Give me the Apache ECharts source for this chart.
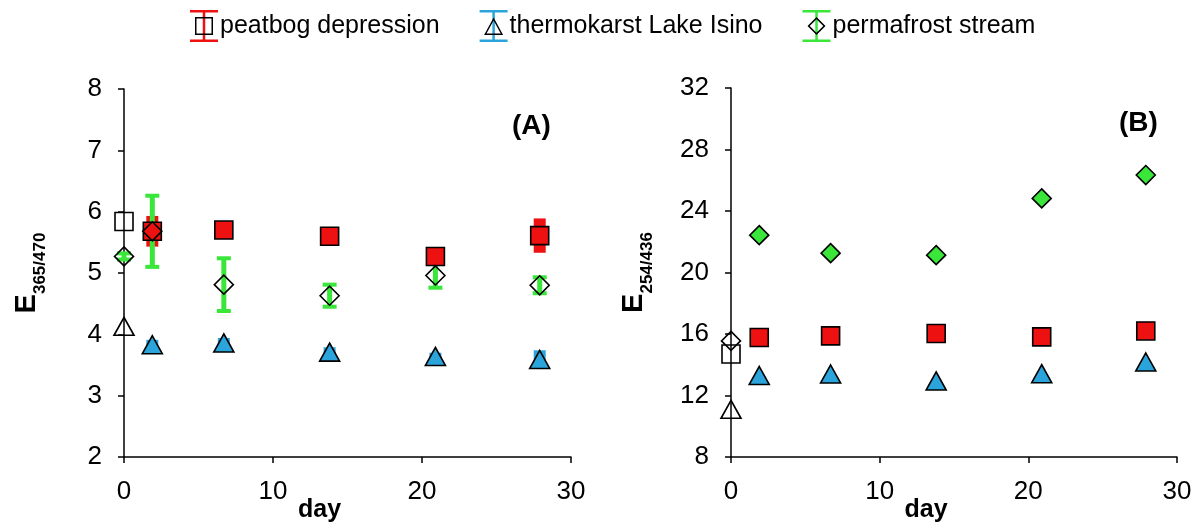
<!DOCTYPE html>
<html><head><meta charset="utf-8">
<script src="https://cdn.jsdelivr.net/npm/echarts@6/dist/echarts.min.js"></script>
<style>html,body{margin:0;padding:0;background:#fff}#c{width:1200px;height:524px}</style>
</head><body><div id="c"></div>
<script>
// ---- data ----
const days = [0, 1.9, 6.7, 13.8, 20.9, 27.9];
const seriesNames = ['peatbog depression', 'thermokarst Lake Isino', 'permafrost stream'];
const xTicks = [0, 10, 20, 30];
const yTicksA = [2, 3, 4, 5, 6, 7, 8];
const yTicksB = [8, 12, 16, 20, 24, 28, 32];
const panelLabels = ['(A)', '(B)'];
const xTitle = 'day';
// panel A: E365/470
const peatA = [5.84, 5.68, 5.70, 5.60, 5.27, 5.61];
const peatErrA = [0, 0.25, 0.14, 0.12, 0.15, 0.28];
const lakeA = [4.13, 3.83, 3.86, 3.71, 3.64, 3.59];
const lakeErrA = [0, 0.08, 0.08, 0.08, 0.06, 0.15];
const streamA = [5.27, 5.68, 4.81, 4.63, 4.96, 4.80];
const streamErrA = [0.05, 0.58, 0.43, 0.18, 0.20, 0.13];
// panel B: E254/436
const peatB = [14.7, 15.77, 15.88, 16.03, 15.81, 16.2];
const lakeB = [11.1, 13.3, 13.4, 12.95, 13.42, 14.18];
const streamB = [15.55, 22.43, 21.26, 21.13, 24.82, 26.34];

// ---- styling ----
const RED = '#ee1111', BLUE = '#2ba4dc', GREEN = '#3ae63a';
const FONT = 'Liberation Sans, Arial, sans-serif';

const IBEAM = 'path://M0,0H28V2.5H15.25V29.5H28V32H0V29.5H12.75V2.5H0Z';
const DOTS = 'M0,0h0.01v0.01h-0.01Z M27.99,31.99h0.01v0.01h-0.01Z ';
const SQ_RING = 'path://' + DOTS + 'M5,7H23V25H5Z M6.5,8.5V23.5H21.5V8.5Z';
const TRI_RING = 'path://' + DOTS + 'M14,7.5L23.5,25H4.5Z M14,10.6L6.9,23.5H21.1Z';
const DIA_RING = 'path://' + DOTS + 'M14,7L23,16L14,25L5,16Z M14,9.2L7.2,16L14,22.8L20.8,16Z';

function errSeries(name, xi, vals, errs, color, kind) {
  return {
    type: 'custom', name: name, xAxisIndex: xi, yAxisIndex: xi, z: 2, silent: true,
    data: days.map((d, i) => [d, vals[i] - errs[i], vals[i] + errs[i]]),
    renderItem: function (params, api) {
      const lo = api.coord([api.value(0), api.value(1)]);
      const hi = api.coord([api.value(0), api.value(2)]);
      if (Math.abs(lo[1] - hi[1]) < 0.5) return { type: 'group', children: [] };
      if (kind === 'block') {
        return { type: 'rect', shape: { x: lo[0] - 6, y: hi[1], width: 12, height: lo[1] - hi[1] }, style: { fill: color } };
      }
      return { type: 'group', children: [
        { type: 'line', shape: { x1: lo[0], y1: lo[1], x2: hi[0], y2: hi[1] }, style: { stroke: color, lineWidth: 5 } },
        { type: 'line', shape: { x1: lo[0] - 7, y1: lo[1], x2: lo[0] + 7, y2: lo[1] }, style: { stroke: color, lineWidth: 4 } },
        { type: 'line', shape: { x1: hi[0] - 7, y1: hi[1], x2: hi[0] + 7, y2: hi[1] }, style: { stroke: color, lineWidth: 4 } }
      ] };
    }
  };
}
function markSeries(name, xi, vals, symbol, size, fill, hollowAll) {
  return {
    type: 'scatter', name: name, xAxisIndex: xi, yAxisIndex: xi, z: 3, symbol: symbol, symbolSize: size,
    data: days.map((d, i) => [d, vals[i]]),
    itemStyle: {
      color: p => (hollowAll || p.dataIndex === 0) ? 'rgba(255,255,255,0)' : fill,
      borderColor: '#000', borderWidth: 1.6, opacity: 1
    },
    emphasis: { disabled: true }
  };
}

const xAxisBase = {
  type: 'value', min: xTicks[0], max: xTicks[xTicks.length - 1], interval: xTicks[1] - xTicks[0],
  splitLine: { show: false },
  axisLine: { show: true, onZero: false, lineStyle: { color: '#000', width: 1.5 } },
  axisTick: { show: true, length: 6, lineStyle: { color: '#000', width: 1.5 } },
  axisLabel: { color: '#000', fontSize: 26, fontFamily: FONT, margin: 22 },
  name: xTitle, nameLocation: 'middle', nameGap: 41, nameMoveOverlap: false,
  nameTextStyle: { color: '#000', fontSize: 25, fontWeight: 'bold', fontFamily: FONT, padding: [0, 56, 0, 0] }
};
function yAxisFor(gi, ticks, sub) {
  return {
    type: 'value', gridIndex: gi, min: ticks[0], max: ticks[ticks.length - 1], interval: ticks[1] - ticks[0],
    splitLine: { show: false },
    axisLine: { show: true, onZero: false, lineStyle: { color: '#000', width: 1.5 } },
    axisTick: { show: true, length: 6, lineStyle: { color: '#000', width: 1.5 } },
    axisLabel: { color: '#000', fontSize: 26, fontFamily: FONT, margin: 22 },
    name: '{e|E}{s|' + sub + '}', nameLocation: 'middle', nameGap: 82, nameMoveOverlap: false,
    nameTextStyle: {
      rich: {
        e: { fontSize: 29, fontWeight: 'bold', fontFamily: FONT, color: '#000', lineHeight: 30 },
        s: { fontSize: 17, fontWeight: 'bold', fontFamily: FONT, color: '#000', verticalAlign: 'bottom', padding: [0, 0, -7, 0] }
      }
    }
  };
}

const legendCommon = {
  top: 10, left: 190, orient: 'horizontal', itemWidth: 28, itemHeight: 32, itemGap: 40, padding: 0
};

const option = {
  animation: false,
  backgroundColor: '#fff',
  title: [
    { text: panelLabels[0], left: 512, top: 112, padding: 0, textStyle: { fontSize: 28, fontWeight: 'bold', fontFamily: FONT, color: '#000' } },
    { text: panelLabels[1], left: 1119, top: 109, padding: 0, textStyle: { fontSize: 28, fontWeight: 'bold', fontFamily: FONT, color: '#000' } }
  ],
  legend: [
    Object.assign({}, legendCommon, {
      data: [
        { name: seriesNames[0], icon: IBEAM, itemStyle: { color: RED, borderWidth: 0 } },
        { name: seriesNames[1], icon: IBEAM, itemStyle: { color: BLUE, borderWidth: 0 } },
        { name: seriesNames[2], icon: IBEAM, itemStyle: { color: GREEN, borderWidth: 0 } }
      ],
      textStyle: { color: '#000', fontSize: 25, fontFamily: FONT, padding: [3, 0, 0, -3] }
    }),
    Object.assign({}, legendCommon, {
      selectedMode: false,
      data: [
        { name: seriesNames[0], icon: SQ_RING, itemStyle: { color: '#000', borderWidth: 0 } },
        { name: seriesNames[1], icon: TRI_RING, itemStyle: { color: '#000', borderWidth: 0 } },
        { name: seriesNames[2], icon: DIA_RING, itemStyle: { color: '#000', borderWidth: 0 } }
      ],
      textStyle: { color: 'rgba(0,0,0,0)', fontSize: 25, fontFamily: FONT, padding: [3, 0, 0, -3] }
    })
  ],
  grid: [
    { left: 124, top: 89, width: 447, height: 368, containLabel: false, outerBoundsMode: 'none' },
    { left: 731, top: 88, width: 446, height: 369, containLabel: false, outerBoundsMode: 'none' }
  ],
  xAxis: [Object.assign({ gridIndex: 0 }, xAxisBase), Object.assign({ gridIndex: 1 }, xAxisBase)],
  yAxis: [yAxisFor(0, yTicksA, '365/470'), yAxisFor(1, yTicksB, '254/436')],
  series: [
    errSeries(seriesNames[0], 0, peatA, peatErrA, RED, 'block'),
    errSeries(seriesNames[1], 0, lakeA, lakeErrA, BLUE, 'block'),
    errSeries(seriesNames[2], 0, streamA, streamErrA, GREEN, 'bar'),
    markSeries(seriesNames[0], 0, peatA, 'rect', 18, RED, false),
    markSeries(seriesNames[1], 0, lakeA, 'triangle', [20, 18], BLUE, false),
    markSeries(seriesNames[2], 0, streamA, 'diamond', [19, 19], GREEN, true),
    markSeries(seriesNames[0], 1, peatB, 'rect', 18, RED, false),
    markSeries(seriesNames[1], 1, lakeB, 'triangle', [20, 18], BLUE, false),
    markSeries(seriesNames[2], 1, streamB, 'diamond', [19, 19], GREEN, false)
  ]
};
const chart = echarts.init(document.getElementById('c'), null, { renderer: 'canvas' });
chart.setOption(option);
</script></body></html>
